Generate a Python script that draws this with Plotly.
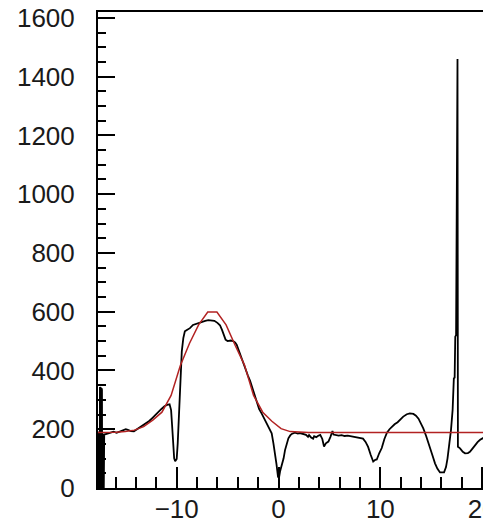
import plotly.graph_objects as go

# Black histogram (measured points)
hist_x = [
    -17.72, -17.70, -17.68, -17.66, -17.64, -17.62, -17.60, -17.58, -17.56, -17.54, -17.52, -17.50,
    -17.48, -17.46, -17.44, -17.42, -17.40, -17.38, -17.36, -17.34, -17.32, -17.30, -17.28, -17.26,
    -17.24, -17.22, -17.20, -17.18, -17.16, -17.14, -17.12,
    -16.8, -16.5, -16.2, -15.9, -15.6, -15.3, -15.0, -14.8, -14.5, -14.2, -13.9, -13.6, -13.3, -13.0,
    -12.7, -12.4, -12.1, -11.8, -11.5, -11.2, -10.95, -10.7, -10.55, -10.45, -10.35, -10.25, -10.15,
    -10.0, -9.9, -9.8, -9.7, -9.6, -9.5, -9.35, -9.2, -9.0, -8.7, -8.4, -8.1, -7.8, -7.5, -7.2, -6.9,
    -6.6, -6.3, -6.0, -5.75, -5.55, -5.4, -5.2, -5.0, -4.7, -4.45, -4.25, -4.1, -3.9, -3.7, -3.45,
    -3.2, -3.0, -2.8, -2.6, -2.4, -2.15, -1.9, -1.65, -1.35, -1.1, -0.85, -0.67, -0.5, -0.34, -0.2,
    -0.05, 0.05, 0.15, 0.31, 0.5, 0.64, 0.8, 0.97, 1.15, 1.3, 1.6, 1.9, 2.1, 2.4, 2.7, 2.9, 3.0, 3.2,
    3.4, 3.5, 3.7, 3.9, 4.1, 4.3, 4.47, 4.65, 4.9, 5.1, 5.3, 5.4, 5.6, 5.9, 6.2, 6.5, 6.8, 7.1, 7.4,
    7.7, 8.0, 8.3, 8.55, 8.8, 9.05, 9.3, 9.5, 9.65, 9.9, 10.14, 10.4, 10.65, 10.9, 11.15, 11.4, 11.7,
    11.95, 12.25, 12.6, 12.9, 13.25, 13.5, 13.75, 14.0, 14.22, 14.5, 14.88, 15.1, 15.37, 15.6, 15.86,
    16.26, 16.45, 16.6, 16.78, 16.94, 17.1, 17.22, 17.3, 17.36, 17.44, 17.47, 17.52, 17.55, 17.58,
    17.62, 17.83, 18.1, 18.32, 18.6, 18.8, 19.05, 19.3, 19.55, 19.8, 20.1, 20.37, 20.6, 20.66, 20.74, 20.8,
]
hist_y = [
    0, 187, 0, 182, 0, 192, 0, 187, 0, 344, 0, 339,
    0, 342, 0, 334, 0, 340, 0, 334, 0, 184, 0, 182,
    0, 180, 0, 182, 0, 180, 182,
    185, 189, 192, 188, 192, 195, 200, 198, 194, 193, 200, 205, 213, 220,
    228, 238, 249, 259, 269, 278, 283, 285, 265, 212, 141, 101, 91,
    99, 152, 222, 303, 404, 465, 510, 533, 538, 544, 555, 559, 563, 566, 569, 571,
    570, 569, 562, 554, 538, 523, 505, 500, 502, 500, 495, 487, 467, 445, 424,
    402, 382, 366, 344, 319, 291, 268, 253, 231, 212, 197, 186, 152, 118, 81,
    38, 35, 56, 73, 101, 129, 152, 169, 179, 184, 188, 185, 187, 183, 181, 174, 180, 172,
    168, 176, 173, 178, 181, 167, 141, 152, 158, 174, 194, 182, 180, 178, 180, 177, 178, 176, 176,
    174, 172, 168, 157, 140, 113, 90, 96, 97, 119, 136, 167, 188, 200, 210, 217, 224,
    233, 243, 251, 254, 252, 246, 236, 220, 203, 177, 140, 113, 84, 66, 53,
    53, 71, 101, 152, 197, 266, 373, 376, 515, 520, 737, 743, 1460, 1460,
    140, 135, 123, 118, 119, 123, 134, 147, 156, 164, 170, 175, 180, 0, 182, 0,
]

# Red fit curve (measured points)
fit_x = [-17.73, -16.85, -15.95, -15.05, -14.15, -13.25, -12.35, -11.45, -10.55, -9.65, -8.75,
         -7.85, -6.95, -6.05, -5.15, -4.25, -3.35, -2.45, -1.55, -0.65, 0.25, 1.15, 2.05, 2.95, 20.87]
fit_y = [189, 189, 190, 192, 197, 209, 231, 258, 315, 416, 492,
         555, 599, 599, 555, 485, 419, 315, 258, 227, 202, 192, 190, 189, 189]

x_range = [-17.73, 20.87]
y_range = [0, 1620]

fig = go.Figure()
fig.add_trace(go.Scatter(x=hist_x, y=hist_y, mode="lines",
                         line=dict(color="black", width=1.8), hoverinfo="skip"))
fig.add_trace(go.Scatter(x=fit_x, y=fit_y, mode="lines",
                         line=dict(color="#b22222", width=1.5), hoverinfo="skip"))

tickfont = dict(family="Liberation Sans, Arial, sans-serif", size=26, color="#1a1a1a")

# page body adds an 8px offset; margins compensate for it
fig.update_layout(
    width=491, height=526,
    margin=dict(l=90, r=8, t=4, b=46, pad=0),
    paper_bgcolor="white", plot_bgcolor="white",
    showlegend=False,
    xaxis=dict(range=x_range, showgrid=False, zeroline=False, automargin=False,
               showline=True, linecolor="black", linewidth=2, mirror=True,
               ticks="inside", ticklen=21, tickwidth=1.5, tickcolor="black",
               tick0=0, dtick=10, tickfont=tickfont, ticklabelstandoff=-3,
               ticklabeloverflow="allow",
               minor=dict(ticks="inside", dtick=2, ticklen=11, tickwidth=1.5,
                          tickcolor="black", showgrid=False)),
    yaxis=dict(range=y_range, showgrid=False, zeroline=False, automargin=False,
               showline=True, linecolor="black", linewidth=2, mirror=False,
               ticks="inside", ticklen=17, tickwidth=1.5, tickcolor="black",
               tick0=0, dtick=200, tickfont=tickfont, ticklabelstandoff=16,
               ticklabeloverflow="allow",
               minor=dict(ticks="inside", dtick=50, ticklen=8, tickwidth=1.5,
                          tickcolor="black", showgrid=False)),
)

fig.write_html("out.html")
